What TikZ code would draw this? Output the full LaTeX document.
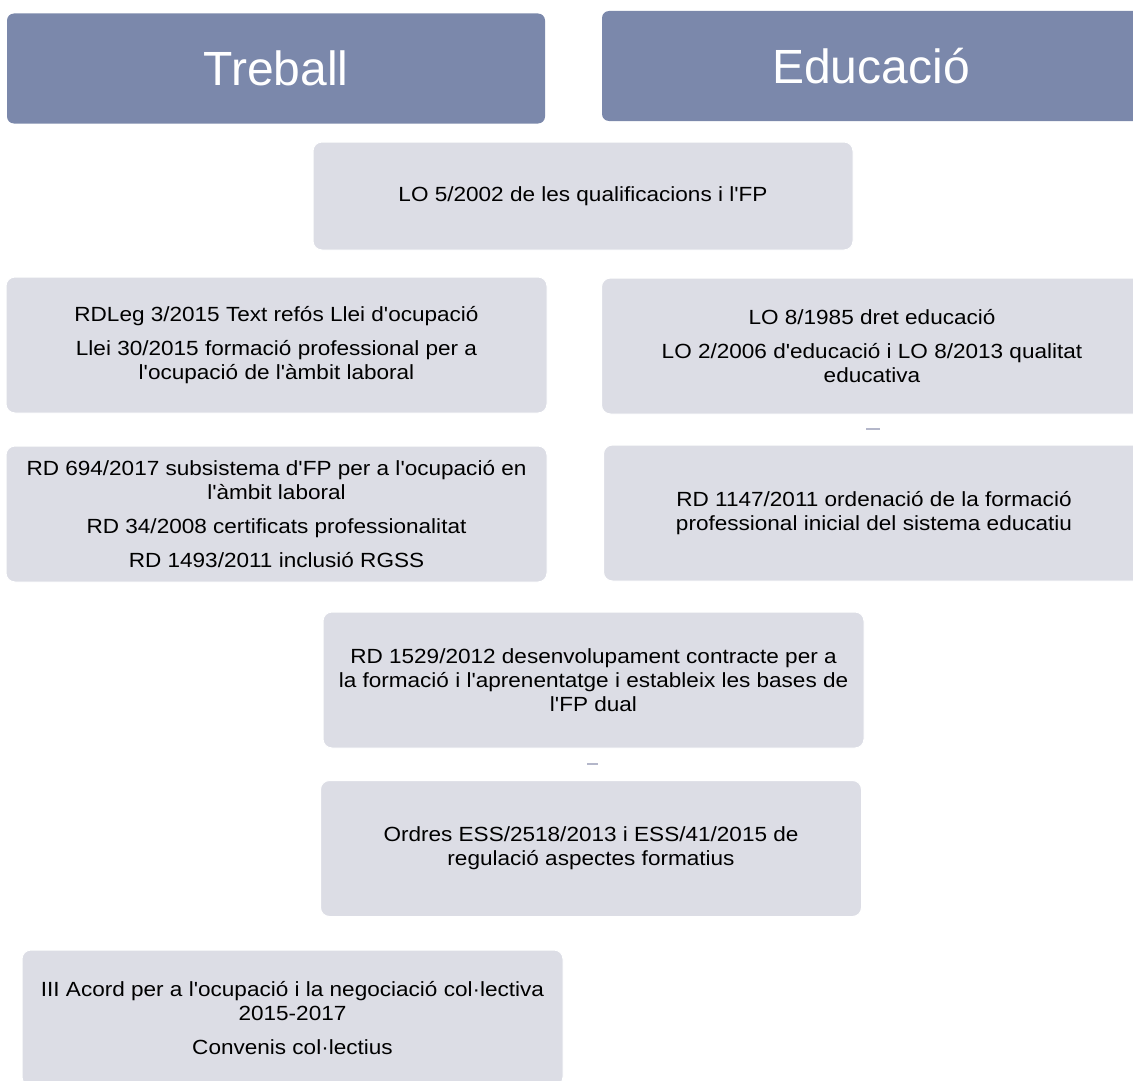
\documentclass[tikz,border=0pt]{standalone}
\usepackage{fontspec}
\newfontfamily\lawfont{Liberation Sans}[FakeStretch=1.1]
\newfontfamily\headfont{Liberation Sans}
\definecolor{headblue}{HTML}{7B88AB}
\definecolor{boxgray}{HTML}{DCDDE5}
\definecolor{markgray}{HTML}{B4B7CA}

\begin{document}
\begin{tikzpicture}[
    x=1pt, y=-1pt,
    head/.style={
        rectangle,
        rounded corners=7pt,
        fill=headblue,
        text=white,
        minimum width=538pt,
        minimum height=110pt,
        font=\headfont\fontsize{48}{52}\selectfont
    },
    law/.style={
        rectangle,
        rounded corners=9pt,
        fill=boxgray,
        draw=white,
        line width=1pt,
        align=center,
        minimum width=541pt,
        minimum height=136pt,
        font=\lawfont\fontsize{20.5}{24}\selectfont
    }
]
\useasboundingbox (0,0) rectangle (1133,1081);
\clip (0,0) rectangle (1133,1081);

% 제목 상자
\node[head] (treball) at (276,68.5) {Treball};
\node[head] (educacio) at (871,66) {Educació};

% 법령 상자
\node[law, minimum width=540pt, minimum height=108pt] (lo5) at (583,196)
    {LO 5/2002 de les qualificacions i l'FP};

\node[law] (rdleg) at (276.5,345)
    {RDLeg 3/2015 Text refós Llei d'ocupació\\[10pt]
     Llei 30/2015 formació professional per a\\
     l'ocupació de l'àmbit laboral};
\node[law] (lo8) at (872,346)
    {LO 8/1985 dret educació\\[10pt]
     LO 2/2006 d'educació i LO 8/2013 qualitat\\
     educativa};

\node[law] (rd694) at (276.5,514)
    {RD 694/2017 subsistema d'FP per a l'ocupació en\\
     l'àmbit laboral\\[10pt]
     RD 34/2008 certificats professionalitat\\[10pt]
     RD 1493/2011 inclusió RGSS};
\node[law] (rd1147) at (874,513)
    {RD 1147/2011 ordenació de la formació\\
     professional inicial del sistema educatiu};

\node[law] (rd1529) at (593.5,680)
    {RD 1529/2012 desenvolupament contracte per a\\
     la formació i l'aprenentatge i estableix les bases de\\
     l'FP dual};
\node[law] (ordres) at (591,848.5)
    {Ordres ESS/2518/2013 i ESS/41/2015 de\\
     regulació aspectes formatius};

\node[law] (acord) at (292.5,1018)
    {III Acord per a l'ocupació i la negociació col·lectiva\\
     2015-2017\\[10pt]
     Convenis col·lectius};

% 작은 연결 표시
\coordinate (m1a) at (866,429);
\coordinate (m1b) at (880,429);
\coordinate (m2a) at (587,764);
\coordinate (m2b) at (598,764);
\draw[markgray, line width=1.5pt] (m1a) -- (m1b);
\draw[markgray, line width=1.5pt] (m2a) -- (m2b);

\end{tikzpicture}
\end{document}
